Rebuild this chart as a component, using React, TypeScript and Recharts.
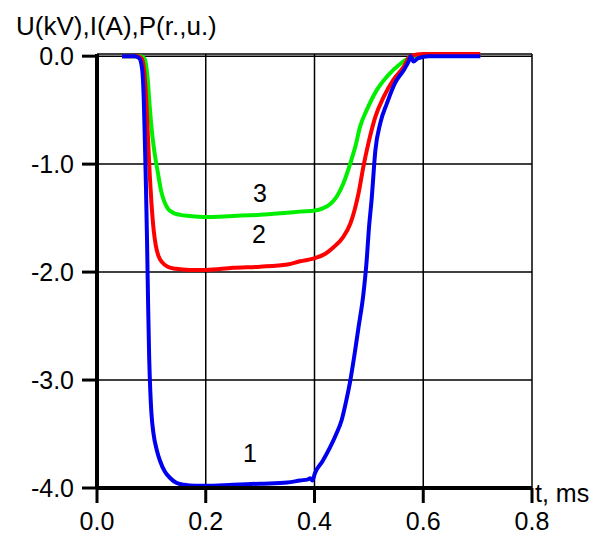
import { LineChart, Line, CartesianGrid, XAxis, YAxis } from "recharts"

// time (ms) and value pairs
const curve1 = [
  [0.046, 0], [0.07, 0], [0.078, -0.02], [0.083, -0.12], [0.086, -0.4], [0.088, -0.78],
  [0.09, -1.2], [0.092, -1.7], [0.094, -2.3], [0.096, -2.8], [0.098, -3.1], [0.1, -3.3],
  [0.104, -3.5], [0.11, -3.65], [0.116, -3.75], [0.125, -3.85], [0.135, -3.91], [0.145, -3.95],
  [0.16, -3.97], [0.18, -3.98], [0.2, -3.98], [0.25, -3.97], [0.3, -3.96], [0.35, -3.95],
  [0.3735, -3.93], [0.388, -3.92], [0.392, -3.91], [0.396, -3.93], [0.401, -3.86], [0.415, -3.75],
  [0.429, -3.62], [0.44, -3.5], [0.45, -3.37], [0.458, -3.2], [0.466, -3.0], [0.474, -2.75],
  [0.481, -2.51], [0.49, -2.2], [0.496, -1.89], [0.5, -1.6], [0.505, -1.33], [0.512, -0.87],
  [0.521, -0.62], [0.533, -0.44], [0.548, -0.25], [0.564, -0.13], [0.573, -0.05], [0.577, 0],
  [0.582, -0.05], [0.59, -0.02], [0.61, 0], [0.705, 0],
]
const curve2 = [
  [0.046, 0], [0.075, 0], [0.082, -0.02], [0.087, -0.15], [0.091, -0.45], [0.094, -0.78],
  [0.097, -1.1], [0.1, -1.35], [0.104, -1.6], [0.108, -1.75], [0.113, -1.85], [0.12, -1.91],
  [0.13, -1.95], [0.145, -1.97], [0.17, -1.98], [0.2, -1.98], [0.25, -1.96], [0.3, -1.95],
  [0.35, -1.93], [0.3735, -1.9], [0.401, -1.87], [0.42, -1.83], [0.435, -1.77], [0.452, -1.68],
  [0.466, -1.55], [0.474, -1.42], [0.481, -1.27], [0.49, -1.02], [0.499, -0.81], [0.512, -0.56],
  [0.527, -0.38], [0.545, -0.22], [0.564, -0.1], [0.576, 0], [0.6, 0.02], [0.65, 0.02],
  [0.705, 0.02],
]
const curve3 = [
  [0.046, 0], [0.08, 0], [0.088, -0.03], [0.093, -0.2], [0.097, -0.47], [0.101, -0.7],
  [0.106, -0.9], [0.112, -1.08], [0.118, -1.25], [0.124, -1.35], [0.13, -1.41], [0.14, -1.45],
  [0.153, -1.47], [0.17, -1.48], [0.2, -1.49], [0.25, -1.48], [0.3, -1.47], [0.35, -1.45],
  [0.3735, -1.44], [0.401, -1.43], [0.415, -1.41], [0.429, -1.37], [0.441, -1.3], [0.453, -1.18],
  [0.466, -0.99], [0.475, -0.84], [0.484, -0.65], [0.496, -0.5], [0.515, -0.31], [0.533, -0.19],
  [0.558, -0.07], [0.573, -0.02], [0.585, 0], [0.6, 0.01], [0.705, 0.01],
]

const xTicks = [0, 0.2, 0.4, 0.6, 0.8]
const yTicks = [0, -1, -2, -3, -4]

const toRows = (pts: number[][]) => pts.map(([t, v]) => ({ t, v }))

const font = "'Liberation Sans', Arial, sans-serif"

export default function App() {
  return (
    <div style={{ position: "absolute", left: 0, top: 0, width: 611, height: 534, background: "#fff" }}>
      <LineChart width={611} height={534} margin={{ top: 54, right: 79, bottom: 0, left: 0 }}>
        <CartesianGrid stroke="#000" strokeWidth={1.5} />
        <XAxis
          type="number"
          dataKey="t"
          domain={[0, 0.8]}
          ticks={xTicks}
          height={46}
          tickFormatter={(v: number) => v.toFixed(1)}
          axisLine={{ stroke: "#000", strokeWidth: 4 }}
          tickLine={{ stroke: "#000", strokeWidth: 3 }}
          tickSize={15}
          tickMargin={9}
          tick={{ fill: "#000", fontSize: 25, fontFamily: font }}
        />
        <YAxis
          type="number"
          dataKey="v"
          domain={[-4, 0.02]}
          ticks={yTicks}
          width={97}
          tickFormatter={(v: number) => v.toFixed(1)}
          axisLine={{ stroke: "#000", strokeWidth: 4 }}
          tickLine={{ stroke: "#000", strokeWidth: 3 }}
          tickSize={15}
          tickMargin={8}
          tick={{ fill: "#000", fontSize: 25, fontFamily: font }}
        />
        <Line data={toRows(curve3)} dataKey="v" type="monotone" stroke="#00ee00" strokeWidth={4} dot={false} activeDot={false} isAnimationActive={false} />
        <Line data={toRows(curve2)} dataKey="v" type="monotone" stroke="#ff0000" strokeWidth={4} dot={false} activeDot={false} isAnimationActive={false} />
        <Line data={toRows(curve1)} dataKey="v" type="monotone" stroke="#0000ee" strokeWidth={4} dot={false} activeDot={false} isAnimationActive={false} />
      </LineChart>
      <svg width={611} height={534} style={{ position: "absolute", left: 0, top: 0, pointerEvents: "none" }}>
        <g fontFamily={font} fill="#000">
          <text x={16} y={35} fontSize={26}>U(kV),I(A),P(r.,u.)</text>
          <text x={535} y={502} fontSize={25}>t, ms</text>
          <text x={260} y={202} fontSize={25} textAnchor="middle">3</text>
          <text x={259} y={243} fontSize={25} textAnchor="middle">2</text>
          <text x={250} y={462} fontSize={25} textAnchor="middle">1</text>
        </g>
      </svg>
    </div>
  )
}
